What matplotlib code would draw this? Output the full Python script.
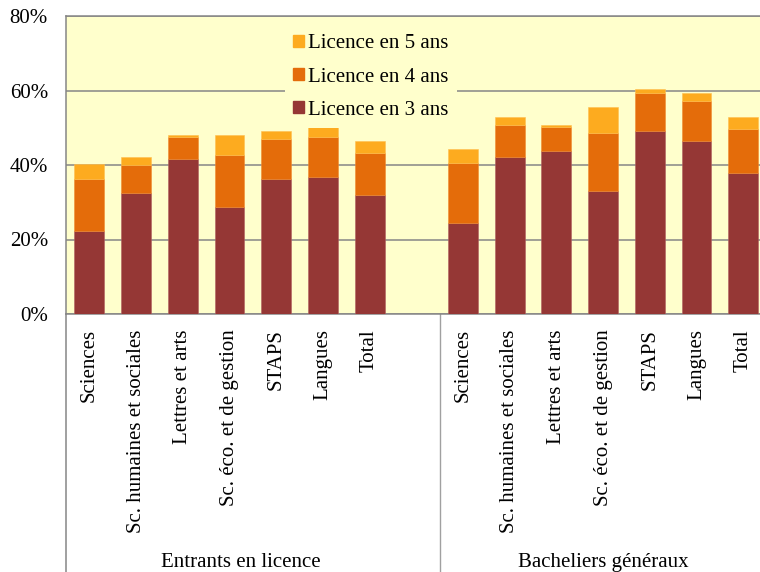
import numpy as np
import matplotlib
matplotlib.use('Agg')
import matplotlib.pyplot as plt
from matplotlib.patches import Patch

plt.rcParams['font.family'] = ['Liberation Serif', 'DejaVu Serif']

categories = ['Sciences', 'Sc. humaines et sociales', 'Lettres et arts',
              'Sc. éco. et de gestion', 'STAPS', 'Langues', 'Total']
groups = ['Entrants en licence', 'Bacheliers généraux']

# share of students (%) by time needed to obtain the licence
entrants_3 = [22.4, 32.6, 41.7, 28.8, 36.2, 36.9, 31.9]
entrants_4 = [13.8, 7.4, 5.8, 13.9, 10.8, 10.5, 11.3]
entrants_5 = [4.2, 2.1, 0.6, 5.4, 2.1, 3.3, 3.2]
bacheliers_3 = [24.5, 42.1, 43.8, 33.1, 49.1, 46.4, 37.9]
bacheliers_4 = [16.0, 8.6, 6.4, 15.5, 10.3, 10.9, 11.8]
bacheliers_5 = [3.8, 2.2, 0.5, 7.0, 1.0, 2.0, 3.2]

yticks = [0, 20, 40, 60, 80]

c3, c4, c5 = '#953735', '#E46C0A', '#FDAB1F'
bg = '#FFFFCC'
grid_c = '#868686'

fig = plt.figure(figsize=(7.6, 5.72), dpi=100)
W, H = 760, 572
ax = fig.add_axes([66 / W, (H - 314) / H, (W - 66) / W, 298 / H])
ax.set_facecolor(bg)

n = len(categories)
x1 = np.arange(n)
x2 = np.arange(n) + n + 1
x = np.concatenate([x1, x2])
v3 = np.array(entrants_3 + bacheliers_3)
v4 = np.array(entrants_4 + bacheliers_4)
v5 = np.array(entrants_5 + bacheliers_5)

w = 0.64
ax.bar(x, v3, w, color=c3, zorder=3, edgecolor='#B06060', linewidth=0.4)
ax.bar(x, v4, w, bottom=v3, color=c4, zorder=3, edgecolor='#F08A30', linewidth=0.4)
ax.bar(x, v5, w, bottom=v3 + v4, color=c5, zorder=3, edgecolor='#FFC050', linewidth=0.4)

ax.set_ylim(0, 80)
ax.set_xlim(-0.5, 14.36)
ax.set_yticks(yticks)
ax.set_yticklabels([f'{t}%' for t in yticks], fontsize=15)
ax.yaxis.grid(True, color=grid_c, linewidth=1.1, zorder=1)
ax.tick_params(axis='y', length=0, pad=13)

ax.set_xticks(x)
ax.set_xticklabels(categories * 2, rotation=90, fontsize=15, va='top')
ax.tick_params(axis='x', length=0, pad=11)

ax.spines['right'].set_visible(False)
for s in ['left', 'top', 'bottom']:
    ax.spines[s].set_color(grid_c)
    ax.spines[s].set_linewidth(1.1)

# separators below the axis
tr = ax.get_xaxis_transform()
ax.plot([-0.5, -0.5], [0, -0.9], color=grid_c, lw=1.1, transform=tr, clip_on=False)
ax.plot([n + 0.5, n + 0.5], [0, -0.9], color='#A0A0A0', lw=1.0, transform=tr, clip_on=False)

ax.text((n - 0.5) / 2, -0.835, groups[0], transform=tr, ha='center',
        va='center', fontsize=15)
ax.text(n + 0.5 + 3.5, -0.835, groups[1], transform=tr, ha='center',
        va='center', fontsize=15)

handles = [Patch(color=c5), Patch(color=c4), Patch(color=c3)]
labels = ['Licence en 5 ans', 'Licence en 4 ans', 'Licence en 3 ans']
leg = ax.legend(handles, labels, loc='upper left',
                bbox_to_anchor=(285 / W, 1 - 26 / H), bbox_transform=fig.transFigure,
                fontsize=15, frameon=True, facecolor=bg, edgecolor=bg, framealpha=1,
                handlelength=0.5, handleheight=0.5, handletextpad=0.2,
                labelspacing=0.68, borderpad=0.4, borderaxespad=0, fancybox=False)
leg.set_zorder(5)
leg.get_frame().set_linewidth(0)

fig.savefig('out.png', dpi=100)
